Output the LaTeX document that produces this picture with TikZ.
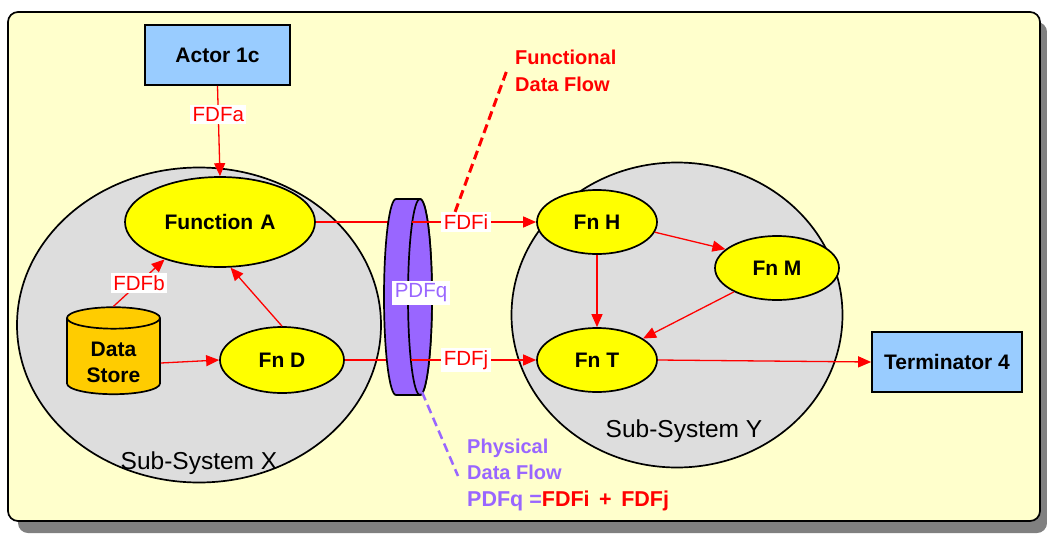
\documentclass[tikz,border=0pt]{standalone}
\usepackage{fontspec}
\setmainfont{Liberation Sans}
\usetikzlibrary{shapes.geometric,arrows.meta}
\definecolor{bgyel}{HTML}{FFFFCC}
\definecolor{shadowgray}{HTML}{808080}
\definecolor{subgray}{HTML}{DDDDDD}
\definecolor{boxblue}{HTML}{99CCFF}
\definecolor{fnyel}{HTML}{FFFF00}
\definecolor{storeorange}{HTML}{FFCC00}
\definecolor{pdfpurple}{HTML}{9966FF}
\definecolor{flowred}{HTML}{FF0000}
\begin{document}
\begin{tikzpicture}[x=1pt,y=-1pt,
  extbox/.style={draw=black, line width=1.7pt, fill=boxblue, inner sep=0pt,
    font=\fontsize{21}{25}\selectfont\bfseries},
  fnnode/.style={ellipse, draw=black, line width=1.7pt, fill=fnyel, inner sep=0pt,
    font=\fontsize{21}{25}\selectfont\bfseries},
  subsys/.style={ellipse, draw=black, line width=1.7pt, fill=subgray, inner sep=0pt},
  sublabel/.style={font=\fontsize{24.5}{28}\selectfont, inner sep=0pt},
  flowarrow/.style={draw=flowred, line width=1.3pt, -{Triangle[length=13pt,width=11pt]}},
  flowline/.style={draw=flowred, line width=1.3pt},
  flowlabel/.style={fill=white, text=flowred, inner sep=2.5pt,
    font=\fontsize{20.5}{24}\selectfont},
  note/.style={font=\fontsize{20}{26.5}\selectfont\bfseries, align=left, inner sep=0pt, anchor=north west}
]
\useasboundingbox (0,0) rectangle (1047,533);
% frame and shadow
\fill[shadowgray, rounded corners=10pt] (18,22) rectangle (1047,533);
\draw[fill=bgyel, line width=1.7pt, rounded corners=10pt] (8,12) rectangle (1040,521);

% sub-systems
\node[subsys, minimum width=364, minimum height=315] (sx) at (199,325) {};
\node[subsys, minimum width=331, minimum height=305] (sy) at (677,315) {};
\node[sublabel] (sxl) at (199,463) {Sub-System X};
\node[sublabel] (syl) at (684,431) {Sub-System Y};

% external boxes
\node[extbox, minimum width=145, minimum height=60] (actor) at (217.5,55) {Actor 1c};
\node[extbox, minimum width=150, minimum height=60] (term) at (947,362) {Terminator 4};

% functions
\node[fnnode, minimum width=190, minimum height=90] (fa) at (220,222) {Function\,\,A};
\node[fnnode, minimum width=124, minimum height=66] (fd) at (282,360) {Fn D};
\node[fnnode, minimum width=120, minimum height=64] (fh) at (597,222) {Fn H};
\node[fnnode, minimum width=124, minimum height=64] (fm) at (777,268) {Fn M};
\node[fnnode, minimum width=120, minimum height=64] (ft) at (597,360) {Fn T};

% data store
\node[cylinder, shape border rotate=90, aspect=0.4, draw=black, line width=1.7pt,
  fill=storeorange, minimum width=93, minimum height=87, inner sep=0pt,
  font=\fontsize{21}{26}\selectfont\bfseries, align=center] (ds) at (113.5,356.5)
  {\phantom{Data}\\\phantom{Store}};
\node[font=\fontsize{21}{26}\selectfont\bfseries, align=center, inner sep=0pt] (dstext) at (113.5,362) {Data\\Store};

% flows inside X
\draw[flowarrow] (actor.south) -- node[flowlabel, pos=0.32] (lfa) {FDFa} (fa.north);
\draw[flowarrow] (ds.north) -- node[flowlabel, pos=0.5] (lfb) {FDFb} (fa.214);
\draw[flowarrow] (ds.east |- 0,363) coordinate (dse) -- (fd.west);
\draw[flowarrow] (fd.north) -- (fa.283);

% flows between subsystems
\draw[flowarrow] (fa.east) -- (fh.west);
\draw[flowarrow] (fd.east) -- (ft.west);

% physical data flow disc
\draw[fill=pdfpurple, line width=1.7pt] (396,199) arc[start angle=270, end angle=90, x radius=12, y radius=98]
  -- (420,395) arc[start angle=90, end angle=-90, x radius=12, y radius=98] -- cycle;
\draw[fill=pdfpurple, line width=1.7pt] (420,297) ellipse [x radius=12, y radius=98];
\coordinate (fiin) at (412,222);
\coordinate (fjin) at (411,360);
\node[flowlabel] (lfi) at (466,222) {FDFi};
\node[flowlabel] (lfj) at (466,360) {FDFj};
\draw[flowline] (fiin) -- (lfi.west);
\draw[flowline] (fjin) -- (lfj.west);
\node[flowlabel, text=pdfpurple] (lpq) at (421,293) {PDFq};

% flows inside Y
\draw[flowarrow] (fh.-10) -- (fm.160);
\draw[flowarrow] (fh.south) -- (ft.north);
\draw[flowarrow] (fm.209) -- (ft.25);
\draw[flowarrow] (ft.east) -- (term.west);

% annotations
\coordinate (fdfend) at (507,70);
\draw[flowred, line width=3pt, dash pattern=on 9pt off 5pt] (lfi.north west) ++(14,0) coordinate (fistart) -- (fdfend);
\node[note, text=flowred] (fdfnote) at (515,50) {Functional\\Data Flow};
\coordinate (pdfstart) at (422,392);
\coordinate (pdfend) at (458,476);
\draw[pdfpurple, line width=2.5pt, dash pattern=on 9pt off 5pt] (pdfstart) -- (pdfend);
\node[note, text=pdfpurple] (pdfnote) at (467,438.5) {Physical\\Data Flow\\{\fontsize{21.5}{26.5}\selectfont PDFq =\textcolor{flowred}{FDFi\, +\, FDFj}}};
\end{tikzpicture}
\end{document}
